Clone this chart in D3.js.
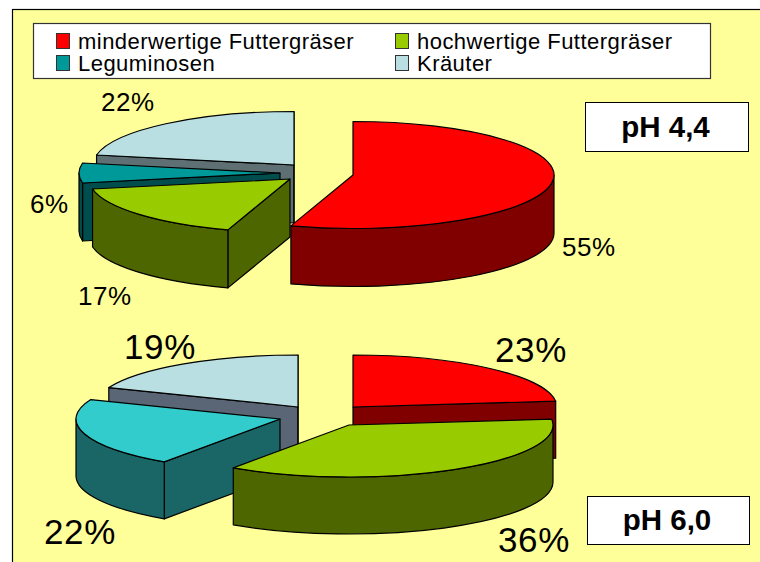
<!DOCTYPE html>
<html>
<head>
<meta charset="utf-8">
<script src="https://cdn.jsdelivr.net/npm/d3@7"></script>
<style>
  html, body { margin: 0; background: #fff; }
  text { font-family: "Liberation Sans", Arial, sans-serif; fill: #000; }
</style>
</head>
<body>
<script>
const categories = ['minderwertige Futtergräser', 'hochwertige Futtergräser', 'Leguminosen', 'Kräuter']

// shares, in percent, clockwise from 12 o'clock
const valuesPh44 = [55, 17, 6, 22]
const valuesPh60 = [23.2, 36.4, 21.5, 18.9]
const titles = ['pH 4,4', 'pH 6,0']

const topColors = {
  ph44: ['#ff0000', '#99cc00', '#009999', '#b9dfe3'],
  ph60: ['#ff0000', '#99cc00', '#33cccc', '#b9dfe3']
}
const sideColors = {
  ph44: ['#800000', '#4d6600', '#004d4d', '#5f7074'],
  ph60: ['#800000', '#4d6600', '#1a6666', '#5a6675']
}
const legendColors = ['#ff0000', '#99cc00', '#009999', '#b9dfe3']

const width = 760, height = 562
const svg = d3.select('body').append('svg')
    .attr('width', width)
    .attr('height', height)
    .style('display', 'block')

// panel, open on the right and the bottom like the reference
svg.append('rect').attr('x', 12.5).attr('y', 9.5).attr('width', width).attr('height', height)
    .attr('fill', '#ffff99').attr('stroke', '#000').attr('stroke-width', 1.2)

const pie = d3.pie().sort(null).value(d => d)

// each slice is pulled out on its own, so every one gets its own tip
const drawPie = (values, tops, sides, tips, rx, ry, depth, labels) => {
  const arcs = pie(values)
  const g = svg.append('g').attr('stroke', '#000').attr('stroke-width', 1.2).attr('stroke-linejoin', 'round')

  // back to front, the green slice sits over its neighbours
  const order = [3, 2, 0, 1]
  order.forEach(i => {
    const a0 = arcs[i].startAngle, a1 = arcs[i].endAngle
    const [cx, cy] = tips[i]
    const px = a => cx + rx * Math.sin(a)
    const py = a => cy - ry * Math.cos(a)
    const wall = a => `M${cx},${cy}L${px(a)},${py(a)}L${px(a)},${py(a) + depth}L${cx},${cy + depth}Z`

    // cut faces looking towards the viewer
    if (Math.cos(a0 - Math.PI / 2) < 0) g.append('path').attr('d', wall(a0)).attr('fill', sides[i])
    if (Math.cos(a1 + Math.PI / 2) < 0) g.append('path').attr('d', wall(a1)).attr('fill', sides[i])

    // rim, only the front half of the ellipse shows
    const from = Math.max(a0, Math.PI / 2), to = Math.min(a1, 3 * Math.PI / 2)
    if (to > from) {
      const big = to - from > Math.PI ? 1 : 0
      g.append('path')
        .attr('d', `M${px(from)},${py(from)}A${rx},${ry} 0 ${big} 1 ${px(to)},${py(to)}` +
                   `L${px(to)},${py(to) + depth}A${rx},${ry} 0 ${big} 0 ${px(from)},${py(from) + depth}Z`)
        .attr('fill', sides[i])
    }

    const arc = d3.arc().innerRadius(0).outerRadius(rx)
    g.append('path')
      .attr('d', arc(arcs[i]))
      .attr('transform', `translate(${cx},${cy}) scale(1,${ry / rx})`)
      .attr('vector-effect', 'non-scaling-stroke')
      .attr('fill', tops[i])
  })

  labels.forEach(l => {
    svg.append('text')
      .attr('x', l.x).attr('y', l.y)
      .attr('font-size', l.size)
      .attr('letter-spacing', 0.6)
      .text(`${Math.round(values[l.i])}%`)
  })
}

drawPie(valuesPh44, topColors.ph44, sideColors.ph44,
  [[353, 175], [290, 179], [280, 173], [294, 165]], 201, 53.5, 58,
  [{i: 0, x: 562, y: 256, size: 26}, {i: 1, x: 78, y: 305, size: 26},
   {i: 2, x: 30, y: 213, size: 26}, {i: 3, x: 101, y: 111, size: 26}])

drawPie(valuesPh60, topColors.ph60, sideColors.ph60,
  [[353, 407], [349, 425], [280, 419], [298, 407]], 204, 52, 57,
  [{i: 0, x: 495, y: 362, size: 35}, {i: 1, x: 498, y: 552, size: 35},
   {i: 2, x: 44, y: 544, size: 35}, {i: 3, x: 124, y: 359, size: 35}])

// legend
svg.append('rect').attr('x', 33.5).attr('y', 23.5).attr('width', 677).attr('height', 55)
    .attr('fill', '#fff').attr('stroke', '#333').attr('stroke-width', 1.2)

const legendX = d3.scalePoint().domain([0, 1]).range([56, 395])
const legendY = d3.scalePoint().domain([0, 1]).range([33, 55])
categories.forEach((c, i) => {
  const col = i % 2, row = Math.floor(i / 2)
  svg.append('rect')
    .attr('x', legendX(col) + 0.5).attr('y', legendY(row) + 0.5)
    .attr('width', 13).attr('height', 15)
    .attr('fill', legendColors[i]).attr('stroke', '#333').attr('stroke-width', 1)
  svg.append('text')
    .attr('x', legendX(col) + 22).attr('y', legendY(row) + 16)
    .attr('font-size', 22)
    .attr('letter-spacing', 0.46)
    .text(c)
})

// pH boxes
const boxes = [{x: 585, y: 102, w: 163, h: 49}, {x: 587, y: 496, w: 162, h: 48}]
titles.forEach((t, i) => {
  const b = boxes[i]
  svg.append('rect')
    .attr('x', b.x + 0.5).attr('y', b.y + 0.5).attr('width', b.w).attr('height', b.h)
    .attr('fill', '#fff').attr('stroke', '#000').attr('stroke-width', 1)
  svg.append('text')
    .attr('x', b.x + b.w / 2 - 1).attr('y', b.y + b.h / 2 + 10)
    .attr('text-anchor', 'middle')
    .attr('font-size', 29.5).attr('font-weight', 'bold')
    .text(t)
})
</script>
</body>
</html>
